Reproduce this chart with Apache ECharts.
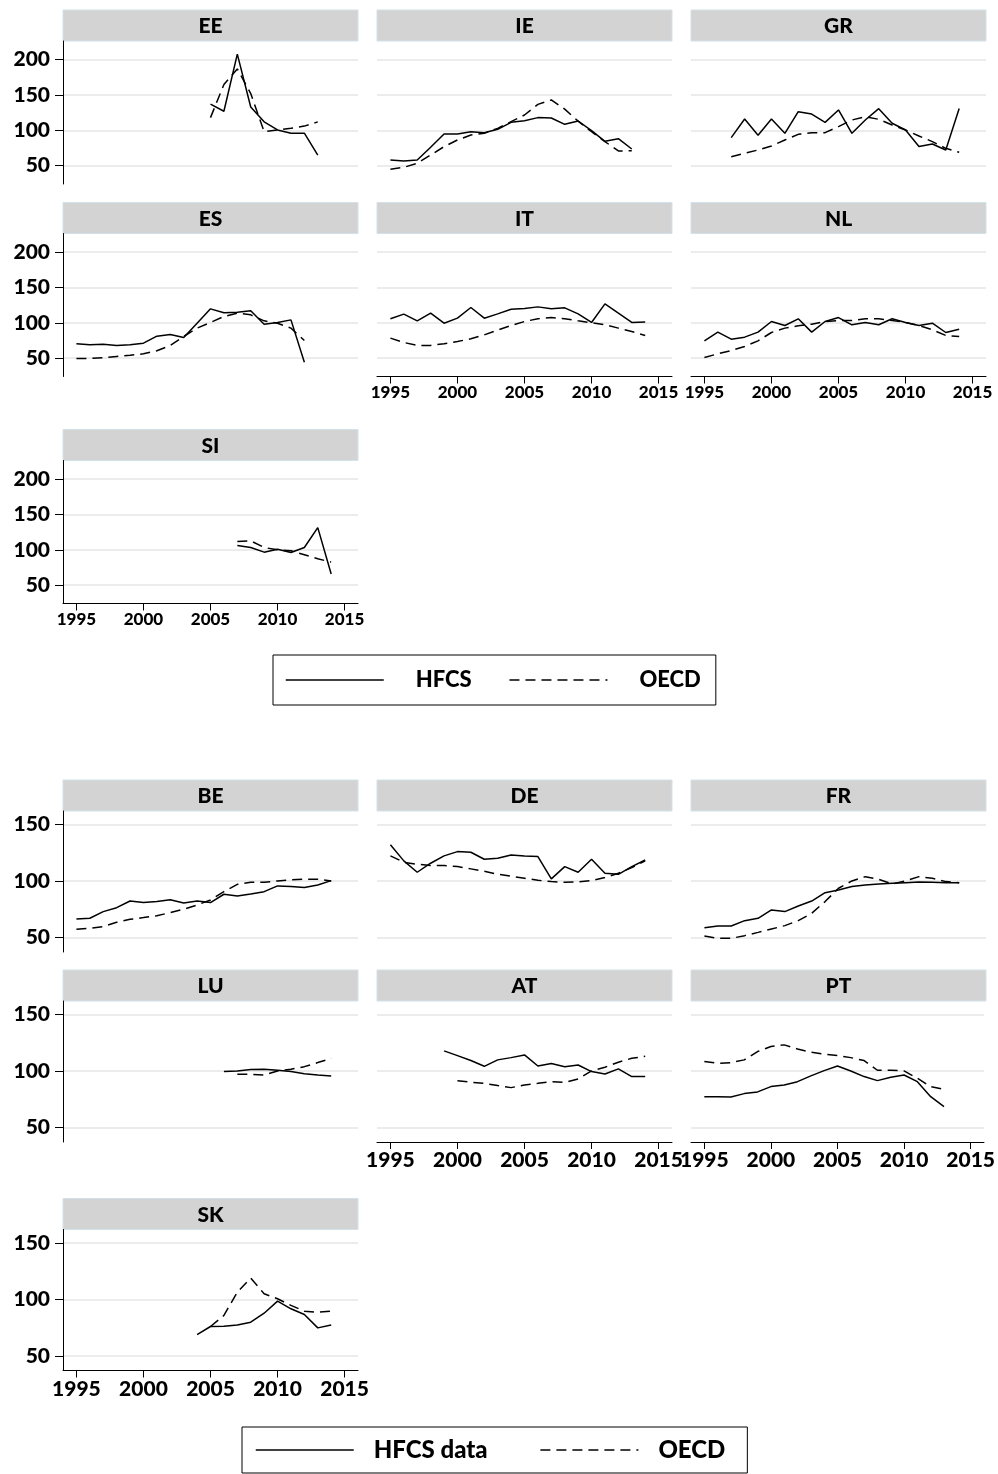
<!DOCTYPE html>
<html>
<head>
<meta charset="utf-8">
<script src="https://cdn.jsdelivr.net/npm/echarts@6/dist/echarts.min.js"></script>
<style>html,body{margin:0;padding:0;background:#fff}#c{width:998px;height:1474px}</style>
</head>
<body>
<div id="c"></div>
<script>
// ---------- data ----------
const years = [1995,1996,1997,1998,1999,2000,2001,2002,2003,2004,2005,2006,2007,2008,2009,2010,2011,2012,2013,2014];
const xTicks = [1995, 2000, 2005, 2010, 2015];
const yTicksTop = [50, 100, 150, 200];
const yTicksBottom = [50, 100, 150];
const panelsTop = ['EE','IE','GR','ES','IT','NL','SI'];
const panelsBottom = ['BE','DE','FR','LU','AT','PT','SK'];
const N = null;

const hfcs_EE = [N,N,N,N,N,N,N,N,N,N,137,127,208,133,112,100.5,96,96,65,N];
const oecd_EE = [N,N,N,N,N,N,N,N,N,N,118,165,187,152,98,100.5,103,106,112,N];
const hfcs_IE = [58,56.6,58,76,94.8,94.8,98,96.7,101.4,111.3,113.7,118,117.5,108.5,113.2,99.5,84.4,88.2,73.6,N];
const oecd_IE = [44.8,47.6,53.3,65,76.9,86.3,93.4,95.8,102.8,112.3,121.7,136.8,143,130,113,98,84,70.8,71,N];
const hfcs_GR = [N,N,89.6,116,93,116,95.8,126.4,123,111.3,128.8,95.8,114.6,130.7,110,100.5,77,80.7,72.2,131];
const oecd_GR = [N,N,62.7,67.5,72.2,77.8,86.3,94.3,96.7,96.7,105.2,114.6,119.3,115.6,107.5,100.5,92,84,74.5,68.9];
const hfcs_ES = [70.3,68.9,69.8,67.9,68.9,71.2,81.1,83.5,79.2,99.5,119.8,114.2,115,117,98.1,100.5,104.2,44.3,N,N];
const oecd_ES = [49.5,49.5,50.5,52.4,54.2,56.1,60.4,68,80.7,92.5,100.5,109,113.7,111.3,102.8,99.5,92.5,75,N,N];
const hfcs_IT = [105.7,112.3,102.8,113.7,99.5,106.6,121.7,106.6,112.7,119.3,120.3,122.6,119.8,121.2,112.7,100.5,126.9,113.7,100.5,101];
const oecd_IT = [78.3,72.2,68,68,70.3,73.6,77.4,83,89.6,96.2,101.9,105.7,107.5,105.7,102.8,100,97.2,92.5,87.7,82.1];
const hfcs_NL = [74.5,86.8,76.9,79.7,86.8,101.9,96.2,105.7,86.8,101.9,107.5,97.2,100.5,97.2,105.7,100.5,96.2,99.5,86.3,91];
const oecd_NL = [50.9,56.1,60.8,66.5,74.5,86.3,92.5,95.8,98.1,101.9,103.3,103.3,105.7,105.7,103.3,100.5,96.2,90.1,82.1,80.7];
const hfcs_SI = [N,N,N,N,N,N,N,N,N,N,N,N,106,103.3,96.7,100.9,96.2,103.3,131.5,65.7];
const oecd_SI = [N,N,N,N,N,N,N,N,N,N,N,N,111.7,112.7,103.3,100,98.6,93,87.3,82.6];

const hfcs_BE = [66.3,66.9,72.8,76.3,82.2,80.8,81.7,83.4,80.5,82.2,80.8,88.2,86.7,88.5,90.5,95.6,95,94.1,96.4,100.3];
const oecd_BE = [57.1,58,59.5,63.3,66,67.5,69.2,71.9,74.9,78.7,83.1,90.5,97,98.8,98.8,100,100.9,101.5,101.5,100];
const hfcs_DE = [132,117.8,107.7,115.7,122.2,126,125.4,119.2,120.1,123,122,121.6,101.8,112.7,107.7,119.2,106.8,105.9,112.7,118.6];
const oecd_DE = [122.2,116.6,114.8,113.6,113.6,112.7,110.7,108.5,106,104.2,102.4,100.6,99.4,98.8,99.1,100.3,103,106.8,111.8,117.8];
const hfcs_FR = [58.6,60.1,60.1,64.8,66.9,74.3,72.8,77.8,82.2,89.6,92,95,96.4,97.3,97.9,98.5,99.1,98.8,98.5,98.5];
const oecd_FR = [51.2,49.1,49.1,51.5,54.4,57.4,60.4,64.8,71.3,81.7,93.5,100,103.8,101.5,97.3,100,103.8,102.4,99.4,98.5];
const hfcs_LU = [N,N,N,N,N,N,N,N,N,N,N,99.4,100,101.2,101.5,100.6,99.4,97.6,96.4,95.6];
const oecd_LU = [N,N,N,N,N,N,N,N,N,N,N,N,97,97,96.4,100,101.5,103.8,107.4,111.2];
const hfcs_AT = [N,N,N,N,117.8,113.6,109.2,104.1,109.8,111.8,114.2,104.4,106.5,103.8,105.3,99.4,97.3,101.8,95,95];
const oecd_AT = [N,N,N,N,N,91.4,90,89,87,85.2,87.6,89,90.5,89.9,92.9,100,103.3,107.7,111.2,113];
const hfcs_PT = [77.2,77.2,76.9,79.9,81.4,86.1,87.6,90.5,95.6,100.3,104.4,100,95,91.4,94.4,96.4,90.5,77.2,68.3,N];
const oecd_PT = [108.3,106.8,107.4,109.8,117.2,121.6,123.1,119.5,116.6,114.8,113.6,111.8,109.2,100.6,100.6,100,93.5,86.1,83.7,N];
const hfcs_SK = [N,N,N,N,N,N,N,N,N,68.8,76,76.3,77.4,79.8,87.8,98.5,91.7,86.6,74.8,77.4];
const oecd_SK = [N,N,N,N,N,N,N,N,N,N,76,85.8,106.5,119,105,100.6,94.7,89.6,88.7,89.6];

const hfcsTop = [hfcs_EE,hfcs_IE,hfcs_GR,hfcs_ES,hfcs_IT,hfcs_NL,hfcs_SI];
const oecdTop = [oecd_EE,oecd_IE,oecd_GR,oecd_ES,oecd_IT,oecd_NL,oecd_SI];
const hfcsBottom = [hfcs_BE,hfcs_DE,hfcs_FR,hfcs_LU,hfcs_AT,hfcs_PT,hfcs_SK];
const oecdBottom = [oecd_BE,oecd_DE,oecd_FR,oecd_LU,oecd_AT,oecd_PT,oecd_SK];

// ---------- layout ----------
const FONT = 'Lato';
const colLeft = [63, 377, 691];
const plotW = 295;
const headerH = 31;
const grids = [], xAxes = [], yAxes = [], series = [], graphics = [];

function pairs(arr) {
  const out = [];
  years.forEach((y, k) => { if (arr[k] !== null) out.push([y, arr[k]]); });
  return out;
}
const plain = v => String(v);

function buildFigure(names, hArr, oArr, rowTops, plotH, yMin, yMax, yTicks, xFont, hName, oName) {
  names.forEach((nm, i) => {
    const row = Math.floor(i / 3), col = i % 3;
    const left = colLeft[col], top = rowTops[row];
    const gi = grids.length;
    const showX = i >= 4, showY = col === 0;
    grids.push({left: left, top: top, width: plotW, height: plotH, containLabel: false});
    xAxes.push({
      type: 'value', gridIndex: gi, min: 1994, max: 2016,
      axisLine: {show: showX, onZero: false, lineStyle: {color: '#000', width: 1}},
      axisTick: {show: showX, length: 7, customValues: xTicks, lineStyle: {color: '#000', width: 1}},
      axisLabel: {show: showX, customValues: xTicks, formatter: plain, color: '#000', fontFamily: FONT, fontWeight: 900, fontSize: xFont, margin: 8},
      splitLine: {show: false}
    });
    yAxes.push({
      type: 'value', gridIndex: gi, min: yMin, max: yMax,
      axisLine: {show: showY, onZero: false, lineStyle: {color: '#000', width: 1}},
      axisTick: {show: showY, length: 8, customValues: yTicks, lineStyle: {color: '#000', width: 1}},
      axisLabel: {show: showY, customValues: yTicks, formatter: plain, color: '#000', fontFamily: FONT, fontWeight: 900, fontSize: 21, margin: 13},
      splitLine: {show: true, lineStyle: {color: '#e6e6e6', width: 1.5}}
    });
    series.push({
      type: 'line', name: hName, xAxisIndex: gi, yAxisIndex: gi, data: pairs(hArr[i]),
      symbol: 'none', lineStyle: {color: '#000', width: 1.5}, itemStyle: {color: '#000'}, z: 3
    });
    series.push({
      type: 'line', name: oName, xAxisIndex: gi, yAxisIndex: gi, data: pairs(oArr[i]),
      symbol: 'none', lineStyle: {color: '#000', width: 1.5, type: [10, 6]}, itemStyle: {color: '#000'}, z: 3
    });
    graphics.push({
      type: 'rect', shape: {x: left, y: top - headerH, width: plotW, height: headerH},
      style: {fill: '#d3d3d3', stroke: '#d2e2ea', lineWidth: 1}, silent: true
    });
    graphics.push({
      type: 'text', x: left + plotW / 2, y: top - headerH / 2 + 1,
      style: {text: nm, fill: '#000', font: '900 21px ' + FONT, align: 'center', verticalAlign: 'middle', textAlign: 'center', textVerticalAlign: 'middle'},
      silent: true
    });
  });
}

buildFigure(panelsTop, hfcsTop, oecdTop, [41, 233.5, 460.5], 143, 24, 226.5, yTicksTop, 17, 'HFCS', 'OECD');
buildFigure(panelsBottom, hfcsBottom, oecdBottom, [811, 1001, 1229.5], 141, 37, 162, yTicksBottom, 21, 'HFCS data', 'OECD');

const legendBase = {
  orient: 'horizontal', itemWidth: 98, itemHeight: 20, selectedMode: false,
  borderColor: '#000', borderWidth: 1,
  itemStyle: {opacity: 0},
  lineStyle: {width: 1.5, color: '#000'}
};

const option = {
  animation: false,
  backgroundColor: '#fff',
  grid: grids, xAxis: xAxes, yAxis: yAxes, series: series,
  graphic: graphics,
  legend: [
    Object.assign({}, legendBase, {
      data: ['HFCS', 'OECD'], left: 273, top: 655, itemGap: 37, padding: [14, 15, 14, 12],
      textStyle: {fontFamily: FONT, fontWeight: 900, fontSize: 22, color: '#000', padding: [0, 0, 0, 27]}
    }),
    Object.assign({}, legendBase, {
      data: ['HFCS data', 'OECD'], left: 242, top: 1427, itemGap: 52, padding: [11, 22, 11, 13],
      textStyle: {fontFamily: FONT, fontWeight: 900, fontSize: 24, color: '#000', padding: [0, 0, 0, 15]}
    })
  ]
};

const chart = echarts.init(document.getElementById('c'), null, {renderer: 'canvas'});
chart.setOption(option);
</script>
</body>
</html>
